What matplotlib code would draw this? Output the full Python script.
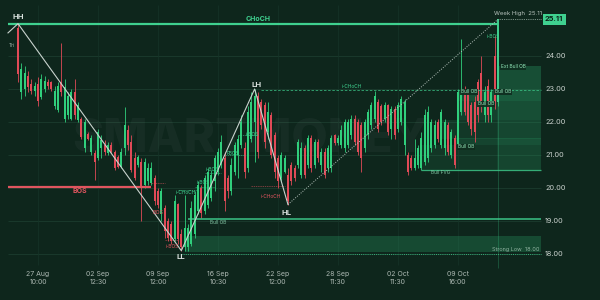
import matplotlib
matplotlib.use("Agg")
import matplotlib.pyplot as plt
from matplotlib.patches import Rectangle

plt.rcParams['font.family'] = ['Inter', 'DejaVu Sans']

# ---------------- data ----------------
opens = [24.85, 22.9, 23.0, 23.4, 23.15, 22.95, 23.15, 22.75, 23.0, 23.2,
         23.2, 22.5, 22.35, 23.2, 22.1, 22.2, 22.1, 22.9, 22.05, 22.1,
         21.2, 21.65, 21.1, 21.05, 20.9, 21.2, 21.3, 21.05, 21.3, 21.1,
         20.95, 20.65, 21.2, 21.75, 21.4, 20.9, 20.7, 20.8, 20.1, 20.2,
         20.15, 20.3, 19.9, 19.2, 19.4, 19.0, 18.9, 18.45, 19.5, 18.6,
         18.2, 18.2, 18.3, 18.6, 19.3, 20.0, 19.3, 19.5, 19.7, 20.2,
         20.5, 20.7, 20.9, 20.3, 19.9, 20.5, 21.0, 21.3, 21.2, 20.6,
         21.5, 22.0, 22.8, 22.6, 22.5, 21.7, 22.2, 21.6, 20.9, 20.3,
         20.5, 20.4, 20.7, 20.6, 20.7, 20.4, 21.2, 20.7, 21.5, 20.7,
         21.4, 20.7, 21.1, 20.6, 20.6, 21.6, 21.35, 21.3, 21.2, 21.3,
         21.6, 22.1, 22.0, 21.9, 21.2, 21.6, 21.9, 22.1, 22.6, 22.5,
         22.1, 22.5, 21.8, 22.4, 21.8, 22.0, 21.3, 21.0, 20.9, 20.6,
         20.7, 20.6, 20.8, 20.9, 21.2, 21.3, 22.0, 21.3, 21.2, 21.9,
         21.0, 21.5, 21.3, 22.3, 23.0, 22.9, 22.5, 22.6, 23.2, 23.5,
         22.2, 23.1, 22.2, 24.0, 22.6]
highs = [24.98, 23.8, 23.7, 23.55, 23.3, 23.2, 23.35, 23.45, 23.4, 23.3,
         23.25, 23.1, 23.2, 24.4, 23.3, 22.9, 23.0, 23.3, 22.6, 22.15,
         22.1, 21.7, 21.6, 21.15, 21.8, 21.6, 21.45, 21.4, 21.4, 21.15,
         21.0, 21.2, 22.45, 21.9, 21.6, 21.1, 21.0, 20.9, 20.9, 20.75,
         20.8, 20.4, 20.0, 20.0, 19.5, 19.1, 19.0, 19.8, 19.55, 18.75,
         19.8, 18.9, 19.6, 19.9, 20.2, 20.1, 20.4, 20.6, 20.55, 21.0,
         21.2, 21.6, 21.1, 20.4, 20.9, 21.4, 21.6, 22.2, 21.4, 22.5,
         22.9, 23.0, 22.9, 22.7, 22.6, 22.6, 22.3, 21.7, 21.0, 21.1,
         21.0, 20.6, 20.8, 20.7, 21.5, 21.4, 21.3, 21.6, 21.6, 21.5,
         21.5, 21.2, 21.2, 21.3, 21.6, 21.65, 21.6, 21.9, 22.1, 22.1,
         22.2, 22.2, 22.1, 22.0, 22.1, 22.4, 22.6, 22.95, 22.7, 22.55,
         22.6, 22.55, 22.5, 22.5, 22.6, 22.8, 22.7, 21.1, 21.0, 21.5,
         21.3, 21.7, 22.4, 22.5, 22.1, 22.05, 22.1, 22.4, 22.1, 22.0,
         21.8, 21.6, 23.0, 24.5, 23.1, 23.0, 22.6, 22.8, 23.3, 24.0,
         23.1, 23.3, 23.0, 24.6, 25.11]
lows = [23.2, 22.7, 22.8, 22.9, 22.85, 22.8, 22.5, 22.7, 22.9, 23.0,
        22.95, 22.4, 22.3, 22.8, 22.0, 22.1, 22.05, 22.1, 22.0, 21.5,
        21.1, 21.45, 21.0, 20.25, 20.85, 20.9, 21.0, 21.0, 21.05, 20.55,
        20.6, 20.6, 21.0, 21.15, 20.5, 20.25, 20.65, 19.0, 20.0, 20.1,
        20.1, 19.5, 19.4, 19.0, 18.5, 18.4, 18.3, 18.4, 18.3, 18.1,
        18.1, 18.1, 18.25, 18.5, 19.2, 19.1, 19.2, 19.4, 19.6, 19.9,
        20.4, 20.6, 19.3, 19.7, 19.8, 20.4, 20.3, 21.2, 20.3, 20.5,
        21.4, 20.8, 20.9, 21.8, 21.2, 21.5, 20.9, 20.3, 20.0, 20.2,
        20.45, 19.5, 20.1, 20.2, 20.6, 20.3, 20.3, 20.6, 20.5, 20.6,
        20.8, 20.5, 20.3, 20.5, 20.5, 21.3, 21.3, 21.2, 21.1, 21.2,
        21.5, 21.3, 21.0, 20.5, 21.1, 21.5, 21.8, 22.0, 21.7, 21.9,
        22.0, 21.6, 21.5, 21.5, 21.7, 21.9, 21.0, 20.4, 20.55, 20.55,
        20.6, 20.55, 20.7, 20.8, 21.1, 21.2, 21.4, 21.2, 21.0, 21.0,
        20.9, 20.6, 21.2, 22.2, 22.2, 21.9, 21.6, 21.4, 22.0, 22.3,
        22.0, 22.0, 22.0, 22.4, 22.5]
closes = [23.45, 23.6, 23.5, 23.05, 22.95, 23.1, 22.65, 23.3, 23.25, 23.1,
          23.0, 22.95, 23.1, 22.9, 23.05, 22.8, 22.9, 22.2, 22.5, 21.55,
          22.0, 21.5, 21.5, 20.8, 21.7, 21.45, 21.1, 21.3, 21.1, 20.6,
          20.65, 21.1, 21.9, 21.3, 20.55, 20.3, 20.95, 20.0, 20.8, 20.6,
          20.6, 19.6, 19.5, 19.9, 18.7, 18.5, 18.4, 19.6, 18.45, 18.2,
          18.8, 18.8, 19.4, 19.8, 20.1, 19.25, 20.3, 20.5, 20.4, 20.9,
          21.1, 21.4, 19.6, 19.9, 20.7, 21.3, 21.5, 22.0, 20.5, 22.3,
          22.6, 22.8, 21.1, 21.9, 21.4, 22.3, 21.0, 20.5, 20.2, 21.0,
          20.9, 19.6, 20.2, 20.3, 21.4, 21.2, 20.4, 21.5, 20.6, 21.4,
          20.9, 21.1, 20.4, 21.2, 21.5, 21.35, 21.5, 21.75, 22.0, 22.0,
          22.1, 21.4, 21.1, 20.9, 22.0, 22.3, 22.5, 22.8, 21.8, 22.0,
          22.5, 21.7, 22.4, 21.6, 22.5, 22.7, 22.6, 20.5, 20.6, 20.9,
          21.2, 21.5, 22.2, 22.3, 22.0, 21.9, 21.5, 22.3, 22.0, 21.1,
          21.7, 20.7, 22.9, 23.0, 22.3, 22.0, 21.8, 21.7, 22.2, 22.5,
          22.9, 22.2, 22.9, 22.6, 25.0]

price_ticks = [24.0, 23.0, 22.0, 21.0, 20.0, 19.0, 18.0]
date_pos = [6, 24, 42, 60, 78, 96, 114, 132]
date_labels = ["27 Aug\n10:00", "02 Sep\n12:30", "09 Sep\n12:00", "16 Sep\n10:30",
               "22 Sep\n12:00", "28 Sep\n11:30", "02 Oct\n11:30", "09 Oct\n16:00"]

swing_idx = [-3, 0, 49, 71, 81]
swing_price = [24.7, 24.98, 18.1, 23.0, 19.5]
proj_idx = [81, 144]
proj_price = [19.5, 25.11]

choch_level = 24.98
bos_level = 20.03
ichoch_level = 22.98
week_high = 25.11
strong_low = 18.0
bull_ob_level = 19.06
fvg_level = 20.55

# internal structure levels: start idx, end idx, price, is_bullish
struct_start = [40, 44, 48, 53, 56, 62, 66, 70]
struct_end = [44, 48, 54, 59, 61, 68, 72, 80]
struct_price = [20.15, 18.42, 19.94, 20.03, 20.45, 21.0, 21.6, 20.05]
struct_bull = [False, False, True, True, True, True, True, False]

# zones: start idx, end idx, low, high, alpha
zone_start = [50, 143.7, 132, 132, 126.6, 131, 120.6, 143.7]
zone_end = [157, 157, 157, 157, 157, 157, 157, 157]
zone_low = [18.05, 22.98, 22.65, 22.06, 21.5, 21.3, 20.55, 20.55]
zone_high = [18.55, 23.7, 22.98, 22.65, 22.06, 21.5, 21.3, 23.7]
zone_alpha = [0.26, 0.2, 0.3, 0.2, 0.13, 0.22, 0.12, 0.12]

# ---------------- styling helpers ----------------
BG = '#0e261c'
GREEN = '#3fd08f'
CG = '#30cf7c'
CR = '#e04a57'
RED = '#e0555f'


def px2i(px):
    return (px - 18) / 3.333


def py2p(py):
    return 24 - (py - 56) / 33.0


fig = plt.figure(figsize=(6, 3), dpi=100)
fig.patch.set_facecolor(BG)
ax = fig.add_axes([0, 0, 1, 1])
ax.set_facecolor(BG)
ax.set_xlim(px2i(0), px2i(600))
ax.set_ylim(py2p(300), py2p(0))
ax.axis('off')

# grid
for p in price_ticks:
    ax.hlines(p, px2i(8), px2i(541), color='#1c3c2e', lw=0.6, zorder=0)
for d in date_pos:
    ax.vlines(d, py2p(265), py2p(5), color='#163428', lw=0.5, zorder=0)

# watermark
ax.text(px2i(250), py2p(140), "SMARTMONEY", fontsize=34, fontweight='heavy',
        color='white', alpha=0.035, ha='center', va='center', zorder=0)

# zones
for s, e, lo, hi, a in zip(zone_start, zone_end, zone_low, zone_high, zone_alpha):
    ax.add_patch(Rectangle((s, lo), e - s, hi - lo, facecolor='#2fb273', alpha=a,
                           lw=0, zorder=1))

# candles
n = len(opens)
for i in range(n):
    o, h, l, c = opens[i], highs[i], lows[i], closes[i]
    col = CG if c >= o else CR
    ax.vlines(i, l, h, color=col, lw=0.6, zorder=3)
    b = min(o, c)
    ht = max(abs(c - o), 0.03)
    ax.bar(i, ht, bottom=b, width=0.62, color=col, lw=0, zorder=3)

# internal structure lines
for s, e, p, bull in zip(struct_start, struct_end, struct_price, struct_bull):
    ax.hlines(p, s, e, color=GREEN if bull else RED, lw=0.5, alpha=0.7,
              ls=(0, (2, 1.2)), zorder=4)

# levels
ax.hlines(choch_level, px2i(8), 144, color=GREEN, lw=1.6, zorder=4)
ax.hlines(bos_level, px2i(8), 40, color=RED, lw=1.6, zorder=4)
ax.hlines(ichoch_level, 73, 157, color=GREEN, lw=0.6, ls=(0, (3, 2)), alpha=0.8, zorder=4)
ax.hlines(week_high, 144, 157, color='#9fb5aa', lw=0.6, ls=(0, (1, 1.2)), zorder=4)
ax.hlines(strong_low, 49, 157, color=GREEN, lw=0.7, ls=(0, (1, 1.2)), alpha=0.8, zorder=4)
ax.hlines(bull_ob_level, 51, 157, color=GREEN, lw=1.2, alpha=0.85, zorder=4)
ax.hlines(fvg_level, 121, 157, color=GREEN, lw=0.9, alpha=0.8, zorder=4)

# crosshair / current
ax.vlines(144, py2p(268), week_high, color=GREEN, lw=0.7, alpha=0.25, zorder=2)
ax.vlines(144, closes[-2], week_high, color=GREEN, lw=1.4, zorder=5)

# zigzag
ax.plot(swing_idx, swing_price, color='#c9d3ce', lw=0.8, zorder=5)
ax.plot(proj_idx, proj_price, color='#b5c2bc', lw=0.7, ls=(0, (1, 1.5)), zorder=5)


# labels
def T(px, py, s, box=False, **kw):
    bb = dict(boxstyle='square,pad=0.15', fc='#0f2d1f', ec='none', alpha=0.9) if box else None
    ax.text(px2i(px), py2p(py), s, ha='center', va='center', zorder=6, bbox=bb, **kw)


T(18, 17, "HH", fontsize=5.5, color='#d8e0dc', fontweight='bold')
T(257, 85, "LH", fontsize=5.5, color='#d8e0dc', fontweight='bold')
T(287, 213, "HL", fontsize=5.5, color='#d8e0dc', fontweight='bold')
T(181, 257, "LL", fontsize=5.5, color='#d8e0dc', fontweight='bold')
T(258, 19, "CHoCH", fontsize=5, color=GREEN, fontweight='bold')
T(80, 191, "BOS", fontsize=5, color=RED, fontweight='bold')
T(158, 212, "BOS", fontsize=3.8, color=RED)
T(172, 246, "i-BOS", fontsize=3.5, color=RED)
T(186, 192, "i-CHoCH", fontsize=3.5, color=GREEN)
T(271, 197, "i-CHoCH", fontsize=3.5, color=RED)
T(218, 222, "Bull OB", fontsize=3.5, color='#7fbf9f')
T(203, 183, "i-BOS", fontsize=3.5, color=GREEN)
T(212, 170, "i-BOS", fontsize=3.5, color=GREEN)
T(233, 154, "FBOS", fontsize=3.5, color=GREEN)
T(252, 134, "i-BOS", fontsize=3.5, color=GREEN)
T(352, 86, "i-CHoCH", fontsize=3.5, color=GREEN)
T(441, 172, "Bull FVG", fontsize=3.5, color='#7fbf9f')
T(469, 92, "Bull OB", box=True, fontsize=3.5, color='#8fe0b5')
T(486, 104, "Bull OB", box=True, fontsize=3.5, color='#8fe0b5')
T(503, 92, "Bull OB", box=True, fontsize=3.5, color='#8fe0b5')
T(513, 67, "Ext Bull OB", box=True, fontsize=3.5, color='#8fe0b5')
T(466, 147, "Bull OB", box=True, fontsize=3.5, color='#8fe0b5')
T(493, 37, "i-BOS", fontsize=3.5, color=GREEN)
T(12, 46, "Tri", fontsize=3.5, color='#9fb5aa')
T(518, 14, "Week High  25.11", fontsize=4.3, color='#b8c4be')
T(516, 249, "Strong Low  18.00", fontsize=4, color='#8fb3a0')

# price axis labels
for p in price_ticks:
    ax.text(px2i(545), p, f"{p:.2f}", ha='left', va='center', fontsize=5.3,
            color='#c9d1cd', zorder=6)
ax.text(px2i(545), week_high, f"{week_high:.2f}", ha='left', va='center', fontsize=5.3,
        fontweight='bold', color='#0b2018', zorder=7,
        bbox=dict(boxstyle='square,pad=0.3', fc=GREEN, ec='none'))

# date labels
for d, lab in zip(date_pos, date_labels):
    ax.text(d, py2p(278), lab, ha='center', va='center', fontsize=5,
            color='#aab6b0', linespacing=1.4, zorder=6)

fig.savefig("out.png", dpi=100, facecolor=BG)
